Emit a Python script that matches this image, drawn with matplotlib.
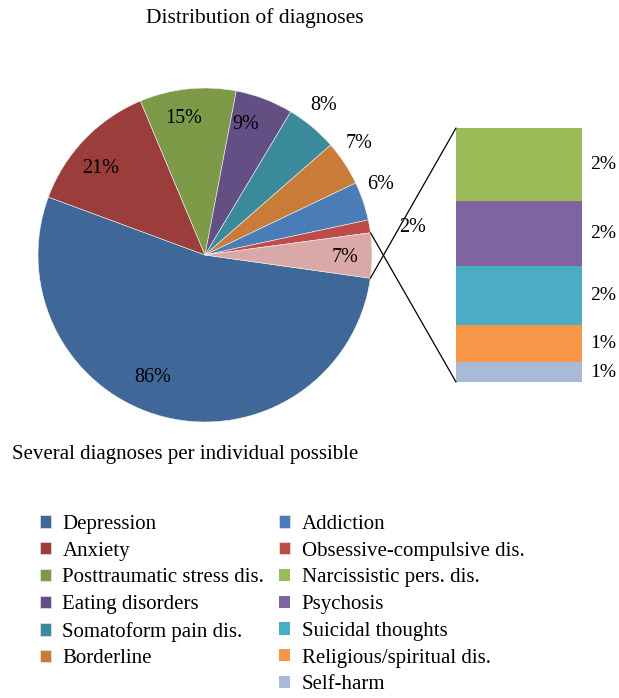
import matplotlib
matplotlib.use('agg')
import matplotlib.pyplot as plt
from matplotlib.patches import ConnectionPatch
import numpy as np

plt.rcParams['font.family'] = ['Liberation Serif', 'DejaVu Serif']

# Config:
pie_labels = ['Depression', 'Anxiety', 'Posttraumatic stress dis.', 'Eating disorders',
              'Somatoform pain dis.', 'Borderline', 'Addiction', 'Obsessive-compulsive dis.', 'Other']
pie_values = [86, 21, 15, 9, 8, 7, 6, 2, 7]
pie_colors = ['#3F6797', '#9B3D3B', '#7C9A48', '#644F85', '#3A8A9C',
              '#C87C38', '#4A7DB8', '#BE4B48', '#D9A9A8']

bar_labels = ['Narcissistic pers. dis.', 'Psychosis', 'Suicidal thoughts',
              'Religious/spiritual dis.', 'Self-harm']
bar_values = [2.24, 2.0, 1.81, 1.14, 0.61]
bar_colors = ['#9BBB59', '#8064A2', '#4BACC6', '#F79646', '#A8BAD6']

# label placement on the pie (radius, angle nudge in degrees)
label_radius = [0.80, 0.81, 0.83, 0.82, 1.14, 1.14, 1.13, 1.26, 0.84]
label_nudge = [-9, 4, 3, 3.5, 1.4, 2.6, 3, -2, -1]

W, H = 619, 698
fig = plt.figure(figsize=(W/100, H/100), dpi=100)

def box(x0, y0, x1, y1):
    return [x0/W, 1 - y1/H, (x1 - x0)/W, (y1 - y0)/H]

ax_pie = fig.add_axes(box(38, 88, 372, 422))
wedges, _ = ax_pie.pie(pie_values, colors=pie_colors, startangle=-8, counterclock=False,
                       radius=1, wedgeprops=dict(edgecolor='#f2f2f2', linewidth=0.4))
ax_pie.set_xlim(-1, 1)
ax_pie.set_ylim(-1, 1)
ax_pie.axis('off')

for w, v, r, nd in zip(wedges, pie_values, label_radius, label_nudge):
    ang = np.deg2rad((w.theta1 + w.theta2)/2 + nd)
    txt = '%d%%' % round(v)
    if r > 1.2:
        # small slice: label outside with a leader line
        a0 = np.deg2rad((w.theta1 + w.theta2)/2)
        y0 = np.sin(a0)
        ax_pie.plot([1.02, 1.14], [y0, y0 - 0.01], color='black', lw=0.9)
        ax_pie.text(1.16, y0 - 0.01, txt, ha='left', va='center', fontsize=14.5)
    else:
        ax_pie.text(r*np.cos(ang), r*np.sin(ang), txt, ha='center', va='center', fontsize=14.5)

ax_bar = fig.add_axes(box(456, 128, 582, 382))
bottom = 0
bars = []
for lab, v, c in reversed(list(zip(bar_labels, bar_values, bar_colors))):
    b = ax_bar.bar(0, v, bottom=bottom, width=1, color=c, label=lab)
    bars.append(b[0])
    ax_bar.annotate('%d%%' % round(v), xy=(1, bottom + v/2), xycoords=('axes fraction', 'data'),
                    xytext=(8, 0), textcoords='offset pixels', ha='left', va='center',
                    fontsize=14, annotation_clip=False)
    bottom += v
bars = bars[::-1]
ax_bar.set_xlim(-0.5, 0.5)
ax_bar.set_ylim(0, bottom)
ax_bar.axis('off')

# connector lines from the "Other" slice to the bar
other = wedges[-1]
for ang, yb in [(other.theta1, bottom), (other.theta2, 0)]:
    a = np.deg2rad(ang)
    con = ConnectionPatch(xyA=(np.cos(a), np.sin(a)), coordsA=ax_pie.transData,
                          xyB=(-0.5, yb), coordsB=ax_bar.transData, color='black', lw=0.9)
    fig.add_artist(con)

fig.text(255/W, 1 - 18/H, 'Distribution of diagnoses', ha='center', va='center', fontsize=15.5)
fig.text(12/W, 1 - 455/H, 'Several diagnoses per individual possible', ha='left', va='center', fontsize=15)

leg_kw = dict(loc='upper left', frameon=False, fontsize=15, borderpad=0, borderaxespad=0,
              handlelength=0.53, handleheight=0.53, handletextpad=0.55, labelspacing=0.37)
fig.legend(wedges[:6], pie_labels[:6], bbox_to_anchor=(40/W, 1 - 515/H), **leg_kw)
fig.legend(wedges[6:8] + bars, pie_labels[6:8] + bar_labels, bbox_to_anchor=(279/W, 1 - 515/H), **leg_kw)

plt.savefig('out.png', dpi=100)
